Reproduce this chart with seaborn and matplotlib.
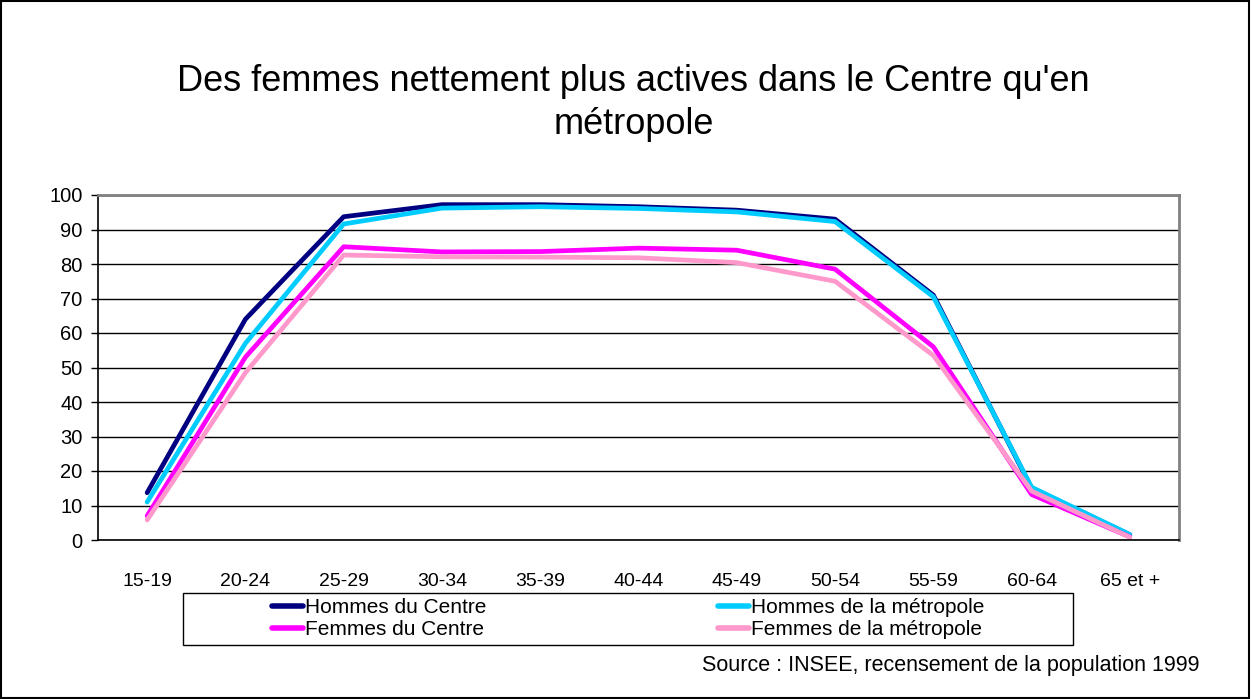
#!/usr/bin/env python

import numpy as np
import matplotlib
matplotlib.use("Agg")
import matplotlib.pyplot as plt
from matplotlib.lines import Line2D
from matplotlib.patches import Rectangle
from matplotlib.ticker import FixedLocator
import pandas as pd
import seaborn as sns

ages = ['15-19', '20-24', '25-29', '30-34', '35-39', '40-44',
        '45-49', '50-54', '55-59', '60-64', '65 et +']
hommes_centre = [13.7, 64.0, 93.7, 97.2, 97.2, 96.6, 95.6, 93.0, 71.0, 15.0, 1.5]
hommes_metropole = [11.0, 57.0, 91.6, 96.2, 96.6, 96.1, 95.1, 92.3, 70.5, 15.3, 1.6]
femmes_centre = [7.0, 53.0, 85.0, 83.5, 83.6, 84.6, 84.0, 78.5, 56.0, 13.2, 0.9]
femmes_metropole = [5.8, 48.5, 82.6, 82.1, 82.0, 81.8, 80.4, 75.0, 53.5, 14.2, 0.8]

series = ['Hommes du Centre', 'Hommes de la métropole',
          'Femmes du Centre', 'Femmes de la métropole']
colors = ['#000080', '#00CCFF', '#FF00FF', '#FF99CC']

sns.set_style("white")
plt.rcParams['font.family'] = ['Liberation Sans', 'DejaVu Sans']
plt.rcParams['text.color'] = 'black'
plt.rcParams['xtick.color'] = 'black'
plt.rcParams['ytick.color'] = 'black'

df = pd.DataFrame({
    'age': ages * 4,
    'taux': hommes_centre + hommes_metropole + femmes_centre + femmes_metropole,
    'serie': np.repeat(series, len(ages)),
})

fig = plt.figure(figsize=(12.52, 6.99), dpi=100)
ax = fig.add_axes([98 / 1252, 1 - 540 / 699, (1179 - 98) / 1252, (540 - 195) / 699])

sns.lineplot(data=df, x='age', y='taux', hue='serie', hue_order=series,
             palette=colors, linewidth=3.4, sort=False, legend=False, ax=ax)

ax.set_xlim(-0.5, len(ages) - 0.5)
ax.set_ylim(0, 100)
ax.set_yticks(np.arange(0, 101, 10))
ax.set_xlabel('')
ax.set_ylabel('')
ax.grid(axis='y', color='black', linewidth=1)
ax.set_axisbelow(True)

ax.xaxis.set_minor_locator(FixedLocator(np.arange(-0.5, len(ages), 1)))
ax.tick_params(axis='x', which='major', length=0, pad=24, labelsize=14)
ax.tick_params(axis='x', which='minor', length=5, width=1, color='black', direction='out')
ax.tick_params(axis='y', length=5, width=1, color='black', direction='out', pad=6, labelsize=14.5, left=True)

for side in ['left', 'bottom']:
    ax.spines[side].set_color('black')
    ax.spines[side].set_linewidth(1.2)
for side in ['top', 'right']:
    ax.spines[side].set_visible(True)
    ax.spines[side].set_color('#808080')
    ax.spines[side].set_linewidth(2)

# titre et source
fig.text(0.506, 1 - 103 / 699,
         "Des femmes nettement plus actives dans le Centre qu'en\nmétropole",
         ha='center', va='center', fontsize=26, linespacing=1.3)
fig.text(1199 / 1252, 1 - 665 / 699,
         "Source : INSEE, recensement de la population 1999",
         ha='right', va='center', fontsize=15.5)

# legende
handles = [Line2D([], [], color=c, linewidth=4) for c in colors]
order = [0, 2, 1, 3]
fig.add_artist(Rectangle((183 / 1252, 1 - 645 / 699), (1073 - 183) / 1252, 52 / 699,
                         transform=fig.transFigure, fill=False,
                         edgecolor='black', linewidth=1))
fig.legend([handles[i] for i in order], [series[i] for i in order],
           ncol=2, loc='upper left', bbox_to_anchor=(272 / 1252, 1 - 598 / 699),
           bbox_transform=fig.transFigure, frameon=False, fontsize=15,
           handlelength=1.5, handletextpad=0.1, columnspacing=11.1,
           labelspacing=0.15, borderpad=0, borderaxespad=0)

# cadre exterieur
fig.add_artist(Rectangle((0.001, 0.002), 0.997, 0.996, transform=fig.transFigure,
                         fill=False, edgecolor='black', linewidth=1.5))

fig.savefig('out.png', dpi=100)
